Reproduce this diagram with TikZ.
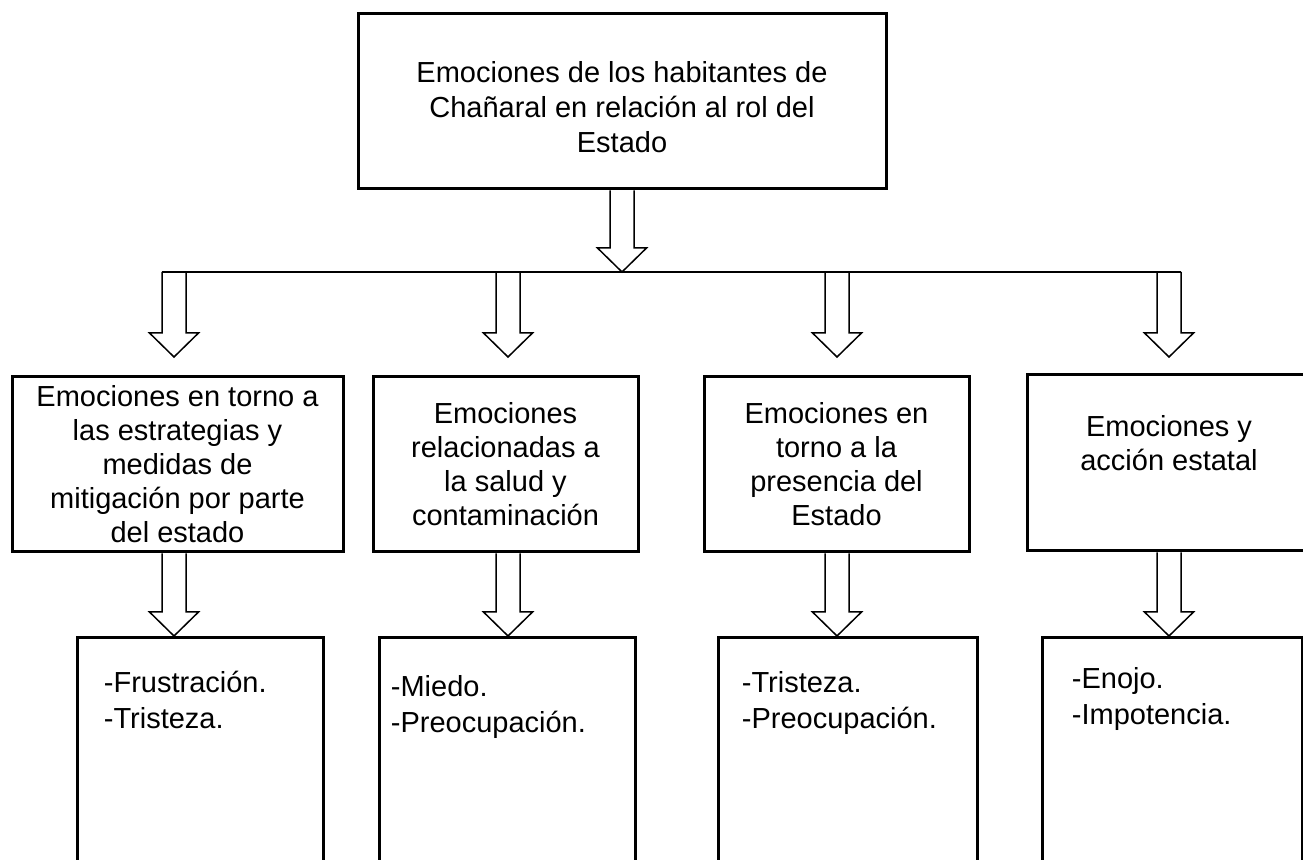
\documentclass[tikz,border=0pt]{standalone}
\usepackage{fontspec}
\setmainfont{Liberation Sans}
\usetikzlibrary{calc}

\tikzset{
	box/.style={rectangle,draw,line width=1.5pt,inner sep=0pt,align=center,
		font=\fontsize{14.5}{17}\selectfont},
	listbox/.style={rectangle,draw,line width=1.5pt,inner sep=0pt,anchor=north,minimum height=150pt},
	listtext/.style={anchor=north west,align=left,inner sep=0pt,
		font=\fontsize{14.5}{18}\selectfont},
	arrowline/.style={line width=0.75pt,line join=miter},
}
% hollow block arrow from #1 down to its tip #2
\newcommand{\hollowarrow}[2]{%
	\draw[arrowline] ($(#1)+(-12,0)$) -- ($(#2)+(-12,-24)$) -- ($(#2)+(-24.5,-24)$)
		-- (#2) -- ($(#2)+(24.5,-24)$) -- ($(#2)+(12,-24)$) -- ($(#1)+(12,0)$);}

\begin{document}
\begin{tikzpicture}[x=0.5pt,y=-0.5pt]
	\clip (0,0) rectangle (1303,860);

	% main box
	\node (main) at (622,101.5) [box,minimum width=264pt,minimum height=87.5pt,
		label={[align=center,yshift=-3pt,font=\fontsize{14.5}{17.5}\selectfont]center:Emociones de los habitantes de\\Chañaral en relación al rol del\\Estado}] {};

	% second level
	\node (m1) at (177.5,464.5) [box,minimum width=165.5pt,minimum height=87.5pt]
		{Emociones en torno a\\las estrategias y\\medidas de\\mitigación por parte\\del estado};
	\node (m2) at (505.5,464.5) [box,minimum width=132.5pt,minimum height=87.5pt]
		{Emociones\\relacionadas a\\la salud y\\contaminación};
	\node (m3) at (836.5,464.5) [box,minimum width=132.5pt,minimum height=87.5pt]
		{Emociones en\\torno a la\\presencia del\\Estado};
	\node (m4) at (1169,463) [box,minimum width=142pt,minimum height=88pt,
		label={[align=center,yshift=10pt,font=\fontsize{14.5}{17}\selectfont]center:Emociones y\\acción estatal}] {};

	% lists
	\node (b1) at (200,636) [listbox,minimum width=123pt] {};
	\node (b2) at (507,636) [listbox,minimum width=128pt] {};
	\node (b3) at (847.5,636) [listbox,minimum width=129.5pt] {};
	\node (b4) at (1172,636) [listbox,minimum width=130pt] {};
	\node (t1) at ($(b1.north west)+(28,35)$) [listtext] {-Frustración.\\-Tristeza.};
	\node (t2) at ($(b2.north west)+(13,39)$) [listtext] {-Miedo.\\-Preocupación.};
	\node (t3) at ($(b3.north west)+(25,35)$) [listtext] {-Tristeza.\\-Preocupación.};
	\node (t4) at ($(b4.north west)+(31,31)$) [listtext] {-Enojo.\\-Impotencia.};

	% branch line and arrows
	\coordinate (a0) at (622,272);
	\coordinate (a1) at (174,272);
	\coordinate (a2) at (508,272);
	\coordinate (a3) at (837,272);
	\coordinate (a4) at (1169,272);
	\draw[arrowline] ($(a1)+(-12,0)$) -- ($(a4)+(12,0)$);
	\coordinate (s0) at (main.south -| a0);
	\hollowarrow{s0}{a0}
	\foreach \i in {1,...,4}{
		\coordinate (p\i) at ($(a\i)+(0,85)$);
		\hollowarrow{a\i}{p\i}
		\coordinate (s\i) at (m\i.south -| a\i);
		\coordinate (e\i) at (b\i.north -| a\i);
		\hollowarrow{s\i}{e\i}
	}
\end{tikzpicture}
\end{document}
